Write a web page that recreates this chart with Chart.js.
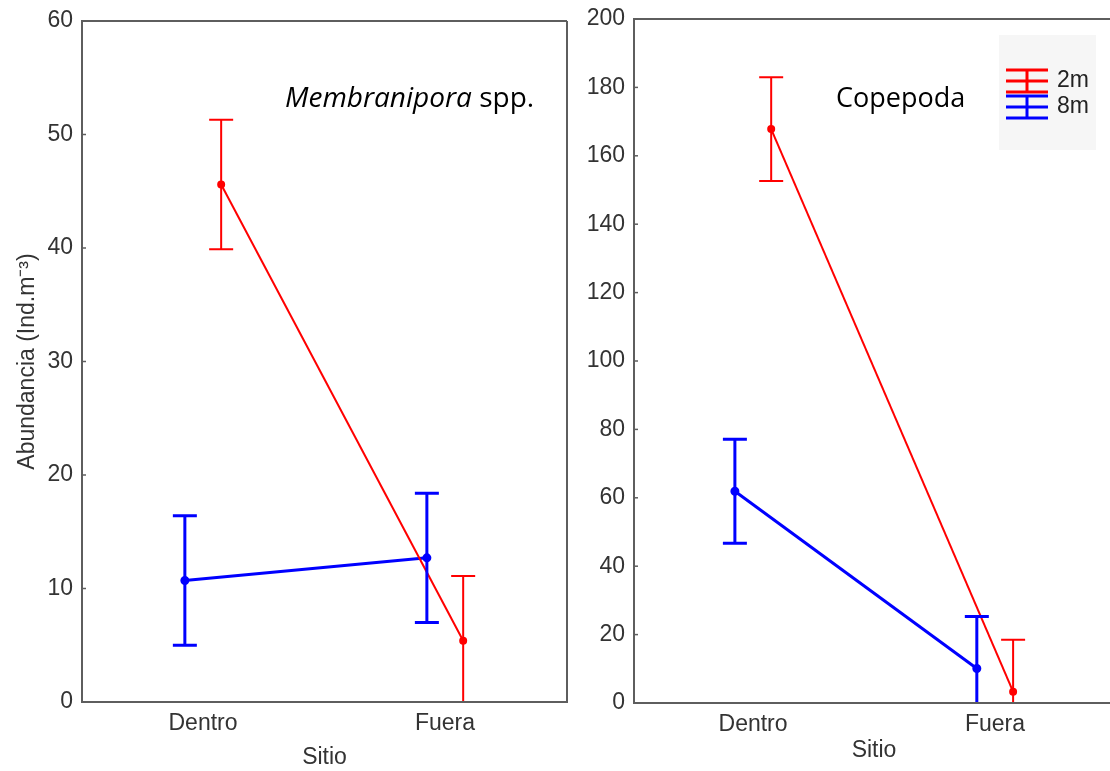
<!DOCTYPE html>
<html>
<head>
<meta charset="utf-8">
<script src="https://cdn.jsdelivr.net/npm/chart.js@4.4.1/dist/chart.umd.min.js"></script>
<style>
  body { margin: 0; background: #fff; }
  #wrap { position: relative; width: 1110px; height: 771px; overflow: hidden; }
  canvas { position: absolute; top: 0; }
  #left { left: 0; }
  #right { left: 575px; }
</style>
</head>
<body>
<div id="wrap">
  <canvas id="left" width="580" height="771"></canvas>
  <canvas id="right" width="545" height="771"></canvas>
</div>
<script>
// Data
const sites = ['Dentro', 'Fuera'];
const depths = ['2m', '8m'];

const membraniporaMean2m = [45.6, 5.4];
const membraniporaErr2m = [5.7, 5.7];
const membraniporaMean8m = [10.7, 12.7];
const membraniporaErr8m = [5.7, 5.7];

const copepodaMean2m = [167.8, 3.3];
const copepodaErr2m = [15.2, 15.2];
const copepodaMean8m = [61.9, 10.1];
const copepodaErr8m = [15.2, 15.2];

const membraniporaTicks = [0, 10, 20, 30, 40, 50, 60];
const copepodaTicks = [0, 20, 40, 60, 80, 100, 120, 140, 160, 180, 200];

const colors = { '2m': '#ff0000', '8m': '#0000ff' };
const widths = { '2m': 2, '8m': 3 };
const dodge = { '2m': 0.075, '8m': -0.075 };
const textColor = '#333';
const frameColor = '#5e5e5e';

function makeSet(depth, means, errs) {
  return {
    label: depth,
    data: means.map((m, i) => ({ x: i + dodge[depth], y: m })),
    errs: errs,
    borderColor: colors[depth],
    backgroundColor: colors[depth],
    borderWidth: widths[depth],
    pointRadius: 3,
    pointHoverRadius: 3,
    tension: 0
  };
}

// error bars, frame, inner ticks, notes
const extras = {
  id: 'extras',
  afterDatasetsDraw(chart, args, opts) {
    const { ctx, chartArea: a, scales } = chart;
    const x = scales.x, y = scales.y;
    ctx.save();
    ctx.beginPath();
    ctx.rect(a.left, a.top, a.right - a.left, a.bottom - a.top);
    ctx.clip();
    chart.data.datasets.forEach(ds => {
      ctx.strokeStyle = ds.borderColor;
      ctx.lineWidth = ds.borderWidth;
      ds.data.forEach((p, i) => {
        const px = x.getPixelForValue(p.x);
        const hi = y.getPixelForValue(p.y + ds.errs[i]);
        const lo = y.getPixelForValue(p.y - ds.errs[i]);
        ctx.beginPath();
        ctx.moveTo(px, hi); ctx.lineTo(px, lo);
        ctx.moveTo(px - 12, hi); ctx.lineTo(px + 12, hi);
        ctx.moveTo(px - 12, lo); ctx.lineTo(px + 12, lo);
        ctx.stroke();
      });
    });
    ctx.restore();

    // frame
    ctx.save();
    ctx.strokeStyle = frameColor;
    ctx.lineWidth = 2;
    ctx.beginPath();
    ctx.moveTo(a.right, a.top); ctx.lineTo(a.left, a.top);
    ctx.lineTo(a.left, a.bottom); ctx.lineTo(a.right, a.bottom);
    if (opts.closed) ctx.lineTo(a.right, a.top);
    ctx.stroke();
    ctx.lineWidth = 1.5;
    y.ticks.forEach(t => {
      const py = y.getPixelForValue(t.value);
      ctx.beginPath();
      ctx.moveTo(a.left, py); ctx.lineTo(a.left + 4, py);
      ctx.stroke();
    });
    ctx.restore();

    // note text
    ctx.save();
    ctx.fillStyle = '#000';
    ctx.textBaseline = 'alphabetic';
    let tx = opts.noteX;
    opts.note.forEach(part => {
      ctx.font = part.font;
      ctx.fillText(part.text, tx, opts.noteY);
      tx += ctx.measureText(part.text).width;
    });
    ctx.restore();

    if (opts.legend) drawLegend(ctx, opts.legend);
  }
};

function drawLegend(ctx, lg) {
  ctx.save();
  ctx.fillStyle = '#f6f6f6';
  ctx.fillRect(lg.x, lg.y, lg.w, lg.h);
  depths.forEach((d, k) => {
    const cy = lg.firstY + k * lg.rowGap;
    ctx.strokeStyle = colors[d];
    ctx.lineWidth = 3;
    ctx.beginPath();
    [-11, 0, 11].forEach(off => {
      ctx.moveTo(lg.iconX, cy + off); ctx.lineTo(lg.iconX + 42, cy + off);
    });
    ctx.moveTo(lg.iconX + 21, cy - 11); ctx.lineTo(lg.iconX + 21, cy + 11);
    ctx.stroke();
    ctx.fillStyle = '#222';
    ctx.font = '23px "Liberation Sans", Arial, sans-serif';
    ctx.textBaseline = 'middle';
    ctx.fillText(d, lg.iconX + 51, cy);
  });
  ctx.restore();
}

const tickFont = { family: '"Liberation Sans", Arial, sans-serif', size: 23 };

function makeChart(id, sets, yTicks, cfg) {
  return new Chart(document.getElementById(id), {
    type: 'line',
    data: { datasets: sets },
    plugins: [extras],
    options: {
      responsive: false,
      animation: false,
      devicePixelRatio: 1,
      layout: { padding: cfg.padding },
      plugins: {
        legend: { display: false },
        tooltip: { enabled: false },
        extras: cfg.extras
      },
      scales: {
        x: {
          type: 'linear',
          min: cfg.xMin,
          max: cfg.xMax,
          grid: { display: false },
          border: { display: false },
          afterBuildTicks: s => { s.ticks = sites.map((c, i) => ({ value: i })); },
          afterFit: s => { s.height = cfg.xHeight; },
          ticks: {
            color: textColor,
            font: tickFont,
            padding: 0,
            maxRotation: 0,
            autoSkip: false,
            callback: v => sites[v]
          },
          title: {
            display: true,
            text: 'Sitio',
            color: textColor,
            font: tickFont,
            padding: { top: 0, bottom: 0 }
          }
        },
        y: {
          min: yTicks[0],
          max: yTicks[yTicks.length - 1],
          grid: { display: false },
          border: { display: false },
          afterBuildTicks: s => { s.ticks = yTicks.map(v => ({ value: v })); },
          afterFit: s => { s.width = cfg.yWidth; },
          ticks: { color: textColor, font: tickFont, padding: 1 },
          title: {
            display: !!cfg.yTitle,
            text: cfg.yTitle || '',
            color: textColor,
            font: tickFont,
            padding: { top: 4, bottom: 0 }
          }
        }
      }
    }
  });
}

makeChart('left', [
  makeSet('2m', membraniporaMean2m, membraniporaErr2m),
  makeSet('8m', membraniporaMean8m, membraniporaErr8m)
], membraniporaTicks, {
  padding: { left: 10, top: 21, right: 13, bottom: 0 },
  xMin: -0.5, xMax: 1.504,
  xHeight: 69, yWidth: 72,
  yTitle: 'Abundancia (Ind.m\u207B\u00B3)',
  extras: {
    closed: true,
    noteX: 285, noteY: 107,
    note: [
      { text: 'Membranipora', font: 'italic 28px "Open Sans", sans-serif' },
      { text: ' spp.', font: '28px "Open Sans", sans-serif' }
    ]
  }
});

makeChart('right', [
  makeSet('2m', copepodaMean2m, copepodaErr2m),
  makeSet('8m', copepodaMean8m, copepodaErr8m)
], copepodaTicks, {
  padding: { left: 0, top: 19, right: 0, bottom: 7 },
  xMin: -0.492, xMax: 1.492,
  xHeight: 61, yWidth: 59,
  extras: {
    closed: false,
    noteX: 261, noteY: 107,
    note: [{ text: 'Copepoda', font: '27px "Open Sans", sans-serif' }],
    legend: { x: 424, y: 35, w: 97, h: 115, iconX: 431, firstY: 81, rowGap: 26 }
  }
});
</script>
</body>
</html>
